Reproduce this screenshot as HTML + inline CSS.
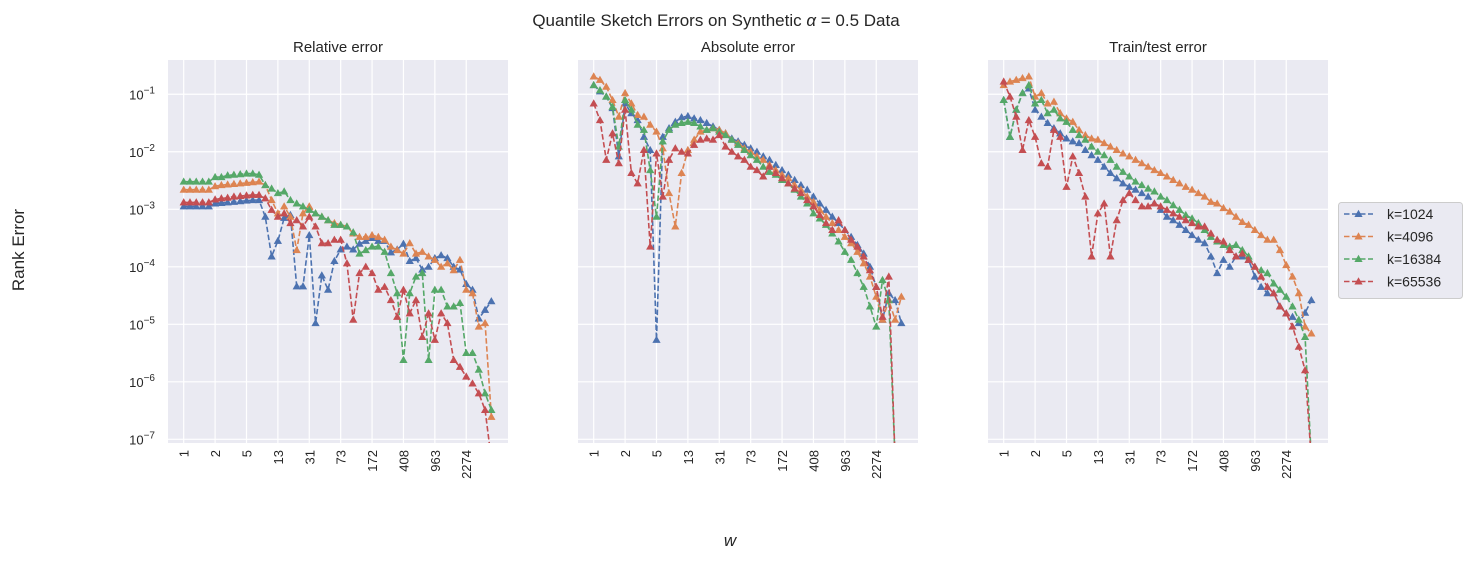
<!DOCTYPE html>
<html><head><meta charset="utf-8">
<style>
body{margin:0;background:#fff;width:1472px;height:560px;overflow:hidden;font-family:"Liberation Sans","DejaVu Sans",sans-serif;}
svg text{font-family:"Liberation Sans","DejaVu Sans",sans-serif;fill:#262626;}
</style></head><body>
<svg id="chart" width="1472" height="560" xmlns="http://www.w3.org/2000/svg">
<text x="716" y="26" text-anchor="middle" font-size="17">Quantile Sketch Errors on Synthetic <tspan font-style="italic">α</tspan> = 0.5 Data</text>
<text transform="translate(24,250) rotate(-90)" text-anchor="middle" font-size="17">Rank Error</text>
<text x="730" y="546" text-anchor="middle" font-size="17" font-style="italic">w</text>
<g id="plots"></g>
<g>
<rect x="1338.5" y="202.5" width="124" height="96" rx="3" fill="#eaeaf2" stroke="#cccccc"/>
<g id="legend-items"></g>
</g>
</svg>
<script>
const categories = [1,2,5,13,31,73,172,408,963,2274];
const tickIdx = [0,10,20,30,40,50,60,70,80,90];
const yTicks = [-1,-2,-3,-4,-5,-6,-7];
const seriesNames = ["k=1024","k=4096","k=16384","k=65536"];
const colors = ["#4c72b0","#dd8452","#55a868","#c44e52"];
const panelTitles = ["Relative error","Absolute error","Train/test error"];
const xIndex = [0,2,4,6,8,10,12,14,16,18,20,22,24,26,28,30,32,34,36,38,40,42,44,46,48,50,52,54,56,58,60,62,64,66,68,70,72,74,76,78,80,82,84,86,88,90,92,94,96,98];
// log10 rank error values
const relBlue = [-2.95,-2.95,-2.95,-2.95,-2.95,-2.90,-2.89,-2.88,-2.87,-2.86,-2.85,-2.84,-2.84,-3.13,-3.82,-3.55,-3.15,-3.10,-4.34,-4.34,-3.45,-4.98,-4.15,-4.40,-3.90,-3.70,-3.65,-3.70,-3.60,-3.55,-3.50,-3.55,-3.55,-3.75,-3.70,-3.60,-3.90,-3.85,-4.05,-4.00,-3.85,-3.80,-3.85,-4.00,-4.05,-4.30,-4.40,-4.90,-4.75,-4.60];
const relOrange = [-2.66,-2.66,-2.66,-2.66,-2.66,-2.60,-2.58,-2.57,-2.56,-2.55,-2.54,-2.53,-2.52,-2.58,-2.84,-3.07,-2.95,-3.13,-3.71,-3.07,-2.95,-3.07,-3.13,-3.19,-3.24,-3.27,-3.30,-3.42,-3.48,-3.48,-3.45,-3.48,-3.53,-3.65,-3.71,-3.77,-3.59,-3.77,-3.74,-3.82,-3.88,-4.00,-3.94,-4.06,-3.88,-4.40,-4.46,-5.04,-4.98,-6.61];
const relGreen = [-2.52,-2.52,-2.52,-2.52,-2.52,-2.44,-2.44,-2.41,-2.40,-2.39,-2.38,-2.38,-2.40,-2.58,-2.64,-2.72,-2.69,-2.84,-2.90,-2.95,-3.01,-3.07,-3.13,-3.19,-3.27,-3.27,-3.30,-3.40,-3.77,-3.71,-3.65,-3.65,-3.74,-4.11,-4.46,-5.62,-4.46,-4.17,-4.11,-5.62,-4.40,-4.40,-4.69,-4.69,-4.63,-5.50,-5.50,-5.79,-6.20,-6.49];
const relRed = [-2.88,-2.88,-2.88,-2.88,-2.88,-2.83,-2.81,-2.80,-2.78,-2.77,-2.76,-2.75,-2.75,-2.81,-3.01,-3.13,-3.07,-3.24,-3.19,-3.30,-3.13,-3.30,-3.59,-3.59,-3.53,-3.53,-3.94,-4.92,-4.11,-4.00,-4.11,-4.40,-4.35,-4.58,-4.87,-4.40,-4.81,-4.58,-5.22,-4.81,-5.27,-4.81,-4.98,-5.62,-5.74,-5.91,-6.03,-6.20,-6.49,-7.36];
const absBlue = [-0.84,-0.95,-1.04,-1.24,-2.08,-1.16,-1.33,-1.45,-1.74,-1.97,-5.27,-1.74,-1.59,-1.48,-1.40,-1.38,-1.42,-1.45,-1.50,-1.56,-1.62,-1.68,-1.77,-1.82,-1.88,-1.94,-2.00,-2.08,-2.14,-2.23,-2.32,-2.40,-2.49,-2.58,-2.66,-2.78,-2.90,-3.01,-3.13,-3.24,-3.36,-3.48,-3.62,-3.77,-4.00,-4.35,-4.92,-4.46,-4.58,-4.98];
const absOrange = [-0.69,-0.75,-0.87,-1.10,-1.39,-0.98,-1.16,-1.36,-1.39,-1.53,-1.65,-1.94,-2.72,-3.30,-2.37,-1.97,-1.79,-1.65,-1.62,-1.59,-1.62,-1.68,-1.79,-1.85,-1.94,-2.00,-2.08,-2.14,-2.23,-2.32,-2.40,-2.46,-2.58,-2.66,-2.78,-2.87,-3.01,-3.13,-3.24,-3.36,-3.48,-3.59,-3.74,-3.94,-4.17,-4.52,-4.92,-4.58,-4.92,-4.52];
const absGreen = [-0.84,-0.93,-1.04,-1.22,-1.91,-1.10,-1.27,-1.53,-1.62,-2.32,-3.13,-1.82,-1.62,-1.53,-1.50,-1.48,-1.50,-1.56,-1.62,-1.59,-1.65,-1.71,-1.79,-1.88,-1.97,-2.06,-2.14,-2.26,-2.35,-2.40,-2.49,-2.55,-2.66,-2.78,-2.90,-3.07,-3.16,-3.27,-3.42,-3.56,-3.74,-3.88,-4.11,-4.35,-4.69,-5.04,-4.23,-4.58,-7.36,-7.36];
const absRed = [-1.16,-1.45,-2.14,-1.68,-2.20,-1.27,-2.37,-2.55,-1.97,-3.65,-2.03,-2.78,-2.14,-1.94,-2.00,-2.03,-1.88,-1.79,-1.77,-1.79,-1.71,-1.91,-2.00,-2.08,-2.14,-2.26,-2.32,-2.43,-2.26,-2.37,-2.46,-2.55,-2.64,-2.72,-2.84,-2.95,-3.10,-3.24,-3.36,-3.19,-3.36,-3.53,-3.65,-3.82,-4.06,-4.35,-4.87,-4.17,-7.36,-7.36];
const ttBlue = [-1.10,-1.74,-1.27,-0.98,-0.90,-1.27,-1.39,-1.50,-1.59,-1.68,-1.77,-1.82,-1.85,-1.97,-2.06,-2.14,-2.26,-2.37,-2.46,-2.55,-2.61,-2.66,-2.72,-2.78,-2.90,-3.01,-3.13,-3.19,-3.27,-3.36,-3.45,-3.53,-3.59,-3.82,-4.11,-3.88,-4.00,-3.82,-3.82,-3.88,-4.17,-4.35,-4.46,-4.46,-4.69,-4.81,-4.87,-4.98,-4.80,-4.58];
const ttOrange = [-0.84,-0.78,-0.75,-0.72,-0.69,-1.04,-0.98,-1.16,-1.13,-1.33,-1.42,-1.48,-1.62,-1.71,-1.77,-1.79,-1.85,-1.91,-1.97,-2.03,-2.08,-2.14,-2.20,-2.26,-2.32,-2.37,-2.43,-2.49,-2.55,-2.61,-2.66,-2.72,-2.78,-2.87,-2.90,-2.98,-3.04,-3.13,-3.22,-3.27,-3.36,-3.45,-3.53,-3.53,-3.71,-3.97,-4.17,-4.46,-5.04,-5.16];
const ttGreen = [-1.10,-1.74,-1.27,-0.98,-0.84,-1.16,-1.10,-1.33,-1.27,-1.42,-1.48,-1.62,-1.71,-1.79,-1.91,-2.00,-2.06,-2.14,-2.26,-2.35,-2.43,-2.52,-2.58,-2.64,-2.69,-2.78,-2.84,-2.93,-3.01,-3.10,-3.16,-3.24,-3.36,-3.48,-3.56,-3.62,-3.65,-3.62,-3.71,-3.82,-4.00,-4.06,-4.11,-4.29,-4.40,-4.52,-4.69,-4.92,-5.22,-7.36];
const ttRed = [-0.78,-1.04,-1.39,-1.97,-1.45,-1.74,-2.20,-2.26,-1.62,-1.74,-2.61,-2.08,-2.37,-2.78,-3.82,-3.07,-2.90,-3.82,-3.19,-2.84,-2.72,-2.84,-2.95,-2.95,-2.90,-2.95,-3.01,-3.07,-3.13,-3.19,-3.24,-3.30,-3.30,-3.42,-3.53,-3.56,-3.71,-3.82,-3.77,-3.88,-4.00,-4.17,-4.35,-4.46,-4.69,-4.81,-5.04,-5.39,-5.80,-7.36];
const panelSeries = [[relBlue,relOrange,relGreen,relRed],[absBlue,absOrange,absGreen,absRed],[ttBlue,ttOrange,ttGreen,ttRed]];

{
const NS="http://www.w3.org/2000/svg";
function mk(tag,attrs,parent){const e=document.createElementNS(NS,tag);for(const k in attrs)e.setAttribute(k,attrs[k]);if(parent)parent.appendChild(e);return e;}
const panelLeft=[168,578,988], W=340, plotTop=60, H=383;
const xMin=-5, xMax=103.3, yTop=-0.404, yBot=-7.064;
function tri(x,y,c,g){const s=3.6;return mk('polygon',{points:`${x},${y-s} ${x-s},${y+s*0.75} ${x+s},${y+s*0.75}`,fill:c,stroke:c,'stroke-width':0.6},g);}
const plots=document.getElementById('plots');
panelLeft.forEach((L,p)=>{
  const sx=i=>L+(i-xMin)/(xMax-xMin)*W;
  const sy=v=>plotTop+(yTop-v)/(yTop-yBot)*H;
  const g=mk('g',{},plots);
  
  
  const bg=mk('rect',{x:L,y:plotTop,width:W,height:H,fill:'#eaeaf2'},g);
  
  
  const cp=mk('clipPath',{id:'clip'+p},g);mk('rect',{x:L,y:plotTop,width:W,height:H},cp);
  tickIdx.forEach((ti,k)=>{
    const x=sx(ti);
    const gl=mk('line',{x1:x,x2:x,y1:plotTop,y2:plotTop+H,stroke:'#fff','stroke-width':1.2},g);
    
    
    const t=mk('text',{transform:`translate(${x+5},${plotTop+H+7}) rotate(-90)`,'text-anchor':'end','font-size':13},g);
    t.textContent=categories[k];
    
    
  });
  yTicks.forEach(v=>{
    const y=sy(v);
    const gl=mk('line',{x1:L,x2:L+W,y1:y,y2:y,stroke:'#fff','stroke-width':1.2},g);
    
    
    if(p===0){
      const t=mk('text',{x:155,y:y+5,'text-anchor':'end','font-size':13},g);
      t.innerHTML='10<tspan dy="-6" font-size="10">−'+(-v)+'</tspan>';
      
      
    }
  });
  const tt=mk('text',{x:L+W/2,y:52,'text-anchor':'middle','font-size':15},g);
  tt.textContent=panelTitles[p];
  
  
  const dg=mk('g',{'clip-path':`url(#clip${p})`},g);
  panelSeries[p].forEach((vals,s)=>{
    const c=colors[s];
    const pts=vals.map((v,i)=>sx(xIndex[i]).toFixed(1)+','+sy(Math.max(v,-7.6)).toFixed(1)).join(' ');
    const pl=mk('polyline',{points:pts,fill:'none',stroke:c,'stroke-width':1.6,'stroke-dasharray':'5.5,2.5'},dg);
    
    
    vals.forEach((v,i)=>{
      const m=tri(sx(xIndex[i]),sy(Math.max(v,-7.6)),c,dg);
      
      
    });
  });
});
const li=document.getElementById('legend-items');
seriesNames.forEach((n,s)=>{
  const y=214+s*22.5;
  const g=mk('g',{},li);
  
  
  mk('line',{x1:1344,x2:1373,y1:y,y2:y,stroke:colors[s],'stroke-width':1.6,'stroke-dasharray':'5.5,2.5'},g);
  tri(1358.5,y,colors[s],g);
  const t=mk('text',{x:1387,y:y+5,'font-size':14},g);
  t.textContent=n;
});
}
</script>
</body></html>
